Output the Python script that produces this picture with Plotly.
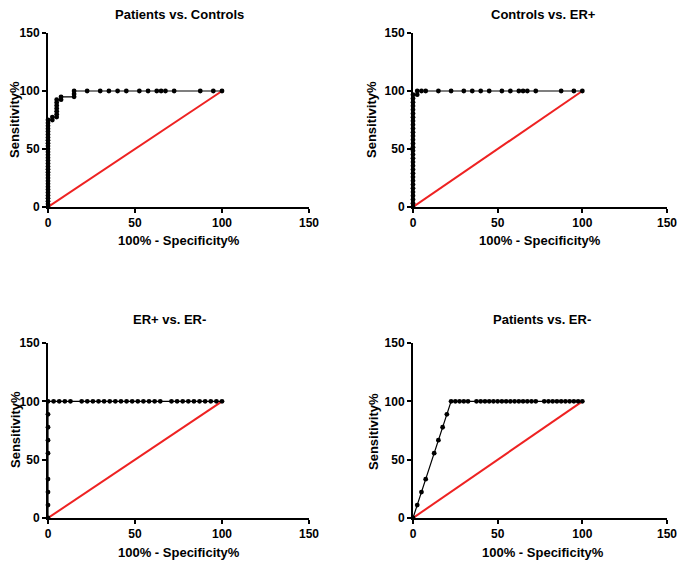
"""ROC curves for the four group comparisons (2x2 grid)."""

import plotly.graph_objects as go

PAGE_W, PAGE_H = 685, 561
PAGE_OFFSET = 8  # default body margin of the html page
W, H = PAGE_W - PAGE_OFFSET, PAGE_H - PAGE_OFFSET
FONT = "Arial, Liberation Sans, sans-serif"

# --- data (x = 100% - Specificity%, y = Sensitivity%) ---
ER_POS_STEP = 100 / 31
ER_NEG_STEP = 100 / 9

pc_x = [0] * 31 + [2.5, 2.5, 5, 5, 5, 5, 5, 5, 5, 7.5, 7.5, 15, 15, 15,
                   22.5, 30, 35, 40, 45, 52.5, 57.5, 62.5, 65, 67.5, 72.5, 87.5, 95, 100]
pc_y = [i * 2.5 for i in range(31)] + [75, 77.5, 77.5, 80, 82.5, 85, 87.5, 90, 92.5, 92.5, 95, 95, 97.5,
                                       100, 100, 100, 100, 100, 100, 100, 100, 100, 100, 100, 100, 100, 100, 100]

ce_x = [0] * 31 + [2.5, 2.5, 5, 7.5, 15, 22.5, 30, 35, 40, 45, 52.5, 57.5, 62.5, 65, 67.5, 72.5, 87.5, 95, 100]
ce_y = [i * ER_POS_STEP for i in range(31)] + [96.8] + [100] * 18

ee_k = [0, 1, 2, 3, 4, 6, 7, 8, 9, 10, 11, 12, 13, 14, 15, 16, 17, 18, 19, 20,
        22, 23, 24, 25, 26, 27, 28, 29, 30, 31]
ee_x = [0] * 8 + [k * ER_POS_STEP for k in ee_k]
ee_y = [0, 1, 2, 3, 5, 6, 7, 8]
ee_y = [j * ER_NEG_STEP for j in ee_y] + [100] * len(ee_k)

pe_x = [0, 2.5, 5, 7.5, 12.5, 15, 17.5, 20] + [22.5, 25, 27.5, 30, 32.5] + \
       [37.5 + 2.5 * i for i in range(15)] + [77.5 + 2.5 * i for i in range(10)]
pe_y = [0, 11.1, 22.2, 33.3, 55.6, 66.7, 77.8, 88.9] + [100] * 30

ref_x = [0, 100]
ref_y = [0, 100]

panels = [
    ("Patients vs. Controls", pc_x, pc_y),
    ("Controls vs. ER+", ce_x, ce_y),
    ("ER+ vs. ER-", ee_x, ee_y),
    ("Patients vs. ER-", pe_x, pe_y),
]

# screen-pixel boxes of each plot area: left, right, top, bottom
# (right column pulled in a little so the last "150" tick label stays on the page)
boxes = [(48, 309, 33, 207), (413, 667, 33, 207), (48, 309, 343, 518), (413, 667, 343, 518)]
title_pos = [(179, 15), (543, 15), (169, 319), (542, 319)]
xtitle_pos = [(179, 240), (540, 240), (179, 552), (543, 552)]
ytitle_pos = [(15, 120), (372, 120), (15, 430), (373, 432)]


def px(x):
    return (x - PAGE_OFFSET) / W


def py(y):
    return 1 - (y - PAGE_OFFSET) / H


fig = go.Figure()
ann = []
text_font = dict(family=FONT, size=13, color="black", weight="bold")
for i, (title, xs, ys) in enumerate(panels):
    n = "" if i == 0 else str(i + 1)
    l, r, t, b = boxes[i]
    axis_style = dict(
        range=[0, 150], tickvals=[0, 50, 100, 150], showgrid=False, zeroline=False,
        showline=True, linecolor="black", linewidth=2, ticks="outside", ticklen=4,
        tickwidth=2, tickcolor="black", automargin=False, ticklabeloverflow="allow",
        tickfont=dict(family=FONT, size=12, color="black", weight="bold"),
    )
    fig.layout["xaxis" + n] = dict(axis_style, domain=[px(l), px(r)], anchor="y" + n)
    fig.layout["yaxis" + n] = dict(axis_style, domain=[py(b), py(t)], anchor="x" + n)

    fig.add_trace(go.Scatter(
        x=ref_x, y=ref_y, mode="lines", line=dict(color="#ee2222", width=2),
        xaxis="x" + n, yaxis="y" + n, cliponaxis=False, showlegend=False))
    fig.add_trace(go.Scatter(
        x=xs, y=ys, mode="lines+markers", line=dict(color="black", width=1.2),
        marker=dict(color="black", size=4.8), xaxis="x" + n, yaxis="y" + n,
        cliponaxis=False, showlegend=False))

    tx, ty = title_pos[i]
    ann.append(dict(text=title, x=px(tx), y=py(ty), xref="paper", yref="paper",
                    showarrow=False, xanchor="center", yanchor="middle", font=text_font))
    ax_, ay_ = xtitle_pos[i]
    ann.append(dict(text="100% - Specificity%", x=px(ax_), y=py(ay_), xref="paper", yref="paper",
                    showarrow=False, xanchor="center", yanchor="middle", font=text_font))
    yx, yy = ytitle_pos[i]
    ann.append(dict(text="Sensitivity%", x=px(yx), y=py(yy), xref="paper", yref="paper",
                    showarrow=False, xanchor="center", yanchor="middle", textangle=-90,
                    font=text_font))

fig.update_layout(
    width=W, height=H, margin=dict(l=0, r=0, t=0, b=0),
    paper_bgcolor="white", plot_bgcolor="white", annotations=ann,
)
fig.write_html("out.html")
